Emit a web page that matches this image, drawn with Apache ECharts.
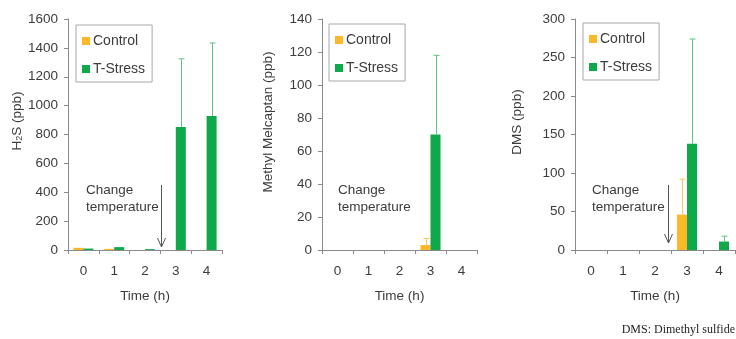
<!DOCTYPE html>
<html>
<head>
<meta charset="utf-8">
<script src="https://cdn.jsdelivr.net/npm/echarts@6/dist/echarts.min.js"></script>
<style>
html,body{margin:0;padding:0;background:#fff;}
#c{width:736px;height:339px;}
</style>
</head>
<body>
<div id="c"></div>
<script>
// ---- data ----
const categories = ['0', '1', '2', '3', '4'];
const seriesNames = ['Control', 'T-Stress'];

const h2sControl = [15, 8, 0, 0, 0];
const h2sStress = [10, 20, 6, 852, 928];
const h2sControlErr = [null, null, null, null, null];
const h2sStressErr = [null, null, null, 1324, 1434];

const mmControl = [0, 0, 0, 3, 0];
const mmStress = [0, 0, 0, 70, 0];
const mmControlErr = [null, null, null, 7, null];
const mmStressErr = [null, null, null, 118, null];

const dmsControl = [0, 0, 0, 46, 0];
const dmsStress = [0, 0, 0, 138, 11];
const dmsControlErr = [null, null, null, 92, null];
const dmsStressErr = [null, null, null, 274, 18];

const yMax = [1600, 140, 300];
const yInterval = [200, 20, 50];
const yNames = ['H{sub|2}S (ppb)', 'Methyl Melcaptan (ppb)', 'DMS (ppb)'];
const xName = 'Time (h)';
const annotation = 'Change\ntemperature';
const footnote = 'DMS: Dimethyl sulfide';

// ---- style ----
const FONT = '"Liberation Sans", Arial, sans-serif';
const TXT = '#3c3c3c';
const AXIS = '#8a8a8a';
const C_CTRL = '#FDB827';
const C_STR = '#0FA84B';
const E_CTRL = '#F9C95A';
const E_STR = '#5DC283';

const grids = [
  {left: 68, top: 19, width: 154, height: 231},
  {left: 322, top: 19, width: 155, height: 231},
  {left: 575, top: 19, width: 160, height: 231}
];
const legendPos = [{left: 76, top: 25}, {left: 329, top: 24}, {left: 583, top: 23}];
const yNamePos = [[17, 121], [268, 122], [517, 122]];
const annPos = [[86, 182], [338, 182], [592, 182]];

const datasets = [
  {c: h2sControl, s: h2sStress, ce: h2sControlErr, se: h2sStressErr},
  {c: mmControl, s: mmStress, ce: mmControlErr, se: mmStressErr},
  {c: dmsControl, s: dmsStress, ce: dmsControlErr, se: dmsStressErr}
];

function errData(vals, errs) {
  const out = [];
  errs.forEach(function (e, i) { if (e != null) out.push([i, vals[i], e]); });
  return out;
}
function errRender(offset, color) {
  return function (params, api) {
    const cat = api.value(0);
    const p0 = api.coord([cat, api.value(1)]);
    const p1 = api.coord([cat, api.value(2)]);
    const x = Math.round(p0[0] + offset) + 0.5;
    return {
      type: 'group',
      children: [
        {type: 'line', shape: {x1: x, y1: p0[1], x2: x, y2: p1[1]}, style: {stroke: color, lineWidth: 1}},
        {type: 'line', shape: {x1: x - 3, y1: p1[1], x2: x + 3, y2: p1[1]}, style: {stroke: color, lineWidth: 1}}
      ]
    };
  };
}

const option = {
  backgroundColor: '#fff',
  animation: false,
  textStyle: {fontFamily: FONT},
  grid: grids,
  xAxis: grids.map(function (g, i) {
    return {
      type: 'category', gridIndex: i, data: categories,
      name: xName, nameLocation: 'middle', nameGap: 39,
      nameTextStyle: {color: TXT, fontSize: 13.5, fontFamily: FONT},
      axisLine: {lineStyle: {color: AXIS}},
      axisTick: {show: true, length: 4, lineStyle: {color: AXIS}},
      axisLabel: {color: TXT, fontSize: 13.5, margin: 14, fontFamily: FONT},
      splitLine: {show: false}
    };
  }),
  yAxis: grids.map(function (g, i) {
    return {
      type: 'value', gridIndex: i, min: 0, max: yMax[i], interval: yInterval[i],
      axisLine: {show: true, lineStyle: {color: AXIS}},
      axisTick: {show: true, length: 4, lineStyle: {color: AXIS}},
      axisLabel: {color: TXT, fontSize: 13.5, margin: 10, fontFamily: FONT,
        formatter: function (v) { return String(v); }},
      splitLine: {show: false}
    };
  }),
  legend: legendPos.map(function (p) {
    return {
      left: p.left, top: p.top, orient: 'vertical', data: seriesNames,
      itemWidth: 8, itemHeight: 8, itemGap: 14, icon: 'rect',
      padding: [9, 7, 6, 6], borderColor: '#a8a8a8', borderWidth: 1,
      backgroundColor: '#fff',
      textStyle: {color: TXT, fontSize: 14, fontFamily: FONT, padding: [0, 0, 0, -2]},
      selectedMode: false
    };
  }),
  series: []
};

datasets.forEach(function (d, i) {
  option.series.push({
    name: 'Control', type: 'bar', xAxisIndex: i, yAxisIndex: i, data: d.c,
    barWidth: 10, barGap: '0%', itemStyle: {color: C_CTRL}, z: 2
  });
  option.series.push({
    name: 'T-Stress', type: 'bar', xAxisIndex: i, yAxisIndex: i, data: d.s,
    barWidth: 10, barGap: '0%', itemStyle: {color: C_STR}, z: 2
  });
  option.series.push({
    name: 'Control', type: 'custom', xAxisIndex: i, yAxisIndex: i,
    data: errData(d.c, d.ce), renderItem: errRender(-5, E_CTRL), z: 3, silent: true
  });
  option.series.push({
    name: 'T-Stress', type: 'custom', xAxisIndex: i, yAxisIndex: i,
    data: errData(d.s, d.se), renderItem: errRender(5, E_STR), z: 3, silent: true
  });
});

const chart = echarts.init(document.getElementById('c'), null, {renderer: 'canvas'});
chart.setOption(option);

// annotations placed after layout
const graphics = [];
yNames.forEach(function (t, i) {
  graphics.push({
    type: 'text', x: yNamePos[i][0], y: yNamePos[i][1], rotation: Math.PI / 2,
    style: {
      text: t, align: 'center', verticalAlign: 'middle',
      fill: TXT, font: '13.5px ' + FONT,
      rich: {sub: {fontSize: 9, verticalAlign: 'bottom', padding: [5, 0, 0, 0], fill: TXT, fontFamily: FONT}}
    }
  });
  graphics.push({
    type: 'text', x: annPos[i][0], y: annPos[i][1],
    style: {text: annotation, fill: TXT, font: '13.5px ' + FONT, lineHeight: 17, align: 'left', verticalAlign: 'top'}
  });
});
// arrows at boundary between time 2 and 3 in charts 1 and 3
[0, 2].forEach(function (gi) {
  const a = chart.convertToPixel({xAxisIndex: gi, yAxisIndex: gi}, [2, 0]);
  const b = chart.convertToPixel({xAxisIndex: gi, yAxisIndex: gi}, [3, 0]);
  const x = Math.round((a[0] + b[0]) / 2) + (gi === 0 ? 1.5 : -2.5);
  const yTop = 185, yBot = gi === 0 ? 247 : 243;
  graphics.push({type: 'line', shape: {x1: x, y1: yTop, x2: x, y2: yBot}, style: {stroke: '#555', lineWidth: 1}});
  graphics.push({type: 'polyline', shape: {points: [[x - 4, yBot - 9], [x, yBot], [x + 4, yBot - 9]]}, style: {stroke: '#555', lineWidth: 1, fill: null}});
});
graphics.push({
  type: 'text', right: 1, top: 324,
  style: {text: footnote, fill: '#222', font: '12px "Liberation Serif", "Times New Roman", serif'}
});
chart.setOption({graphic: graphics});
</script>
</body>
</html>
